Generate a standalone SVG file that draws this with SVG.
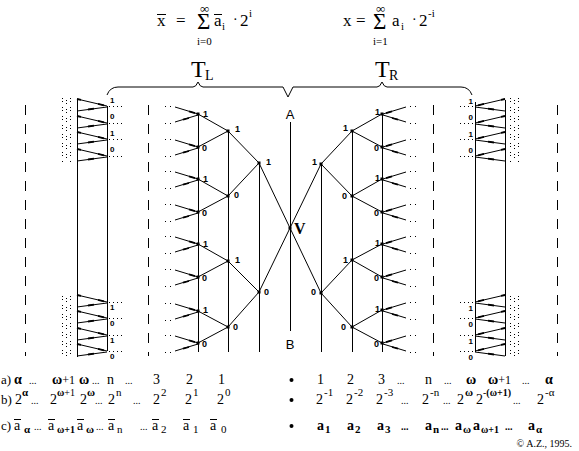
<svg xmlns="http://www.w3.org/2000/svg" xmlns:xlink="http://www.w3.org/1999/xlink" width="579" height="451" viewBox="0 0 579 451">
<style>
.ln{stroke:#000;stroke-width:1;fill:none}
.th{stroke:#000;stroke-width:1.8;fill:none}
.dash{stroke:#000;stroke-width:1;stroke-dasharray:10 9;fill:none}
.dt{stroke:#000;stroke-width:1;stroke-dasharray:1 3;fill:none}
.dc{stroke:#000;stroke-width:1;stroke-dasharray:1 2 1 5;fill:none}
.lbl{font-family:"Liberation Sans",Arial,sans-serif;font-size:9px;font-weight:bold;fill:#000}
.tl{font-family:"Liberation Sans",Arial,sans-serif;font-size:8px;font-weight:bold;fill:#000}
.sf{font-family:"Liberation Serif","Times New Roman",serif;fill:#000}
.t14{font-size:14px}
.s11{font-size:11px}
.s10{font-size:10px}
.s12{font-size:12px}
.s13{font-size:13px}
.b{font-weight:bold}
</style>
<defs>
<g id="wedge">
<path class="ln" d="M-23,-7 L0,0 M-23,8 L0,1"/>
<path class="th" d="M-9,-2.7 L-3,-0.9 M-15,5.6 L-9,4"/>
<rect x="-33" y="-8" width="1" height="1"/><rect x="-28" y="-8" width="1" height="1"/>
<rect x="-33" y="9" width="1" height="1"/><rect x="-28" y="9" width="1" height="1"/>
</g>
<g id="tiny">
<path class="ln" d="M-30,-7 L0,0 M-30,5 L0,1"/>
<path class="th" d="M-9,-2.1 L-3,-0.7 M-19,3.5 L-13,2.7 M-30,-7 L-26,-6.1"/>
<path class="dt" d="M2,0.5 L15,0.5"/>
</g>
</defs>

<!-- formulas -->
<g id="formula-left" class="sf">
<text x="157" y="26" font-size="17">x</text>
<line class="ln" x1="157" y1="14.5" x2="166" y2="14.5"/>
<text x="176" y="26" font-size="17">=</text>
<text x="197" y="29" font-size="23">Σ</text>
<text x="200" y="13" font-size="13">∞</text>
<text x="197" y="45" font-size="11">i=0</text>
<text x="214" y="26" font-size="17">a</text>
<line class="ln" x1="214" y1="14.5" x2="222" y2="14.5"/>
<text x="222" y="30" font-size="11">i</text>
<text x="233" y="24" font-size="14">·</text>
<text x="240" y="26" font-size="17">2</text>
<text x="249" y="17" font-size="11">i</text>
</g>
<g id="formula-right" class="sf">
<text x="343" y="26" font-size="17">x</text>
<text x="356" y="26" font-size="17">=</text>
<text x="373" y="29" font-size="23">Σ</text>
<text x="376" y="13" font-size="13">∞</text>
<text x="373" y="45" font-size="11">i=1</text>
<text x="392" y="26" font-size="17">a</text>
<text x="401" y="30" font-size="11">i</text>
<text x="412" y="24" font-size="14">·</text>
<text x="419" y="26" font-size="17">2</text>
<text x="428" y="17" font-size="11">-i</text>
</g>
<g id="TL" class="sf"><text x="191" y="77" font-size="24">T</text><text x="205" y="80" font-size="14">L</text></g>
<g id="TR" class="sf"><text x="375" y="77" font-size="24">T</text><text x="389" y="80" font-size="14">R</text></g>
<path id="brace" class="ln" d="M107,95 Q110,87 118,87 L193,87 Q196,87 198,82 Q200,87 203,87 L283,87 L288,97 L293,87 L377,87 Q380,87 382,82 Q384,87 387,87 L461,87 Q469,87 472,95"/>

<!-- dashed guides -->
<g id="guides">
<path class="dash" d="M25.5,105 V356 M148.5,105 V356 M433.5,105 V356 M557.5,105 V356"/>
</g>

<!-- tiny clusters -->
<g id="cluster-left">
<path class="ln" d="M77.5,100 V357 M107.5,106 V351"/>
<use xlink:href="#tiny" x="107" y="106"/><use xlink:href="#tiny" x="107" y="123"/><use xlink:href="#tiny" x="107" y="139"/><use xlink:href="#tiny" x="107" y="156"/>
<use xlink:href="#tiny" x="107" y="302"/><use xlink:href="#tiny" x="107" y="318"/><use xlink:href="#tiny" x="107" y="335"/><use xlink:href="#tiny" x="107" y="351"/>
<path class="dc" d="M62.5,98 V163 M66.5,100 V163 M70.5,98 V163 M62.5,296 V358 M66.5,298 V358 M70.5,296 V358"/>
<text class="tl" x="110" y="103">1</text><text class="tl" x="110" y="119">0</text><text class="tl" x="110" y="136">1</text><text class="tl" x="110" y="152">0</text>
<text class="tl" x="110" y="310">1</text><text class="tl" x="110" y="326">0</text><text class="tl" x="110" y="343">1</text><text class="tl" x="110" y="359">0</text>
</g>
<g id="cluster-right">
<path class="ln" d="M475.5,102 V352 M505.5,100 V356"/>
<use xlink:href="#tiny" transform="translate(475,106) scale(-1,1)"/><use xlink:href="#tiny" transform="translate(475,123) scale(-1,1)"/><use xlink:href="#tiny" transform="translate(475,139) scale(-1,1)"/><use xlink:href="#tiny" transform="translate(475,156) scale(-1,1)"/>
<use xlink:href="#tiny" transform="translate(475,302) scale(-1,1)"/><use xlink:href="#tiny" transform="translate(475,318) scale(-1,1)"/><use xlink:href="#tiny" transform="translate(475,335) scale(-1,1)"/><use xlink:href="#tiny" transform="translate(475,351) scale(-1,1)"/>
<path class="dc" d="M510.5,98 V163 M514.5,100 V163 M518.5,98 V163 M510.5,296 V358 M514.5,298 V358 M518.5,296 V358"/>
<text class="tl" x="473" y="104" text-anchor="end">1</text><text class="tl" x="473" y="120" text-anchor="end">0</text><text class="tl" x="473" y="137" text-anchor="end">1</text><text class="tl" x="473" y="153" text-anchor="end">0</text>
<text class="tl" x="473" y="311" text-anchor="end">1</text><text class="tl" x="473" y="327" text-anchor="end">0</text><text class="tl" x="473" y="344" text-anchor="end">1</text><text class="tl" x="473" y="360" text-anchor="end">0</text>
</g>

<!-- connectors -->
<g id="connectors">
<path class="ln" d="M198.5,114 V352 M228.5,131 V352 M259.5,163 V352 M290.5,122 V331 M321.5,164 V352 M352.5,131 V352 M382.5,114 V352"/>
<path class="ln" d="M259,163 L321,293 M321,164 L259,292
M259,163 L228,131 M259,163 L228,196 M259,292 L228,261 M259,292 L228,327
M228,131 L198,114 M228,131 L198,147 M228,196 L198,179 M228,196 L198,212 M228,261 L198,244 M228,261 L198,277 M228,327 L198,311 M228,327 L198,343
M321,164 L352,131 M321,164 L352,196 M321,293 L352,260 M321,293 L352,327
M352,131 L382,114 M352,131 L382,147 M352,196 L382,179 M352,196 L382,212 M352,260 L382,244 M352,260 L382,277 M352,327 L382,310 M352,327 L382,343"/>
<use xlink:href="#wedge" x="198" y="114"/><use xlink:href="#wedge" x="198" y="147"/><use xlink:href="#wedge" x="198" y="179"/><use xlink:href="#wedge" x="198" y="212"/>
<use xlink:href="#wedge" x="198" y="244"/><use xlink:href="#wedge" x="198" y="277"/><use xlink:href="#wedge" x="198" y="311"/><use xlink:href="#wedge" x="198" y="343"/>
<use xlink:href="#wedge" transform="translate(383,114) scale(-1,1)"/><use xlink:href="#wedge" transform="translate(383,147) scale(-1,1)"/><use xlink:href="#wedge" transform="translate(383,179) scale(-1,1)"/><use xlink:href="#wedge" transform="translate(383,212) scale(-1,1)"/>
<use xlink:href="#wedge" transform="translate(383,244) scale(-1,1)"/><use xlink:href="#wedge" transform="translate(383,277) scale(-1,1)"/><use xlink:href="#wedge" transform="translate(383,310) scale(-1,1)"/><use xlink:href="#wedge" transform="translate(383,343) scale(-1,1)"/>
</g>

<!-- nodes -->
<g id="nA"><text x="290" y="119" text-anchor="middle" font-family="Liberation Sans,Arial,sans-serif" font-size="13">A</text></g>
<g id="nB"><text x="290" y="349" text-anchor="middle" font-family="Liberation Sans,Arial,sans-serif" font-size="13">B</text></g>
<g id="nV"><rect x="288.5" y="226.5" width="3" height="3"/><text class="sf b" x="294" y="234" font-size="16">V</text></g>
<g id="nL1a"><rect x="257.5" y="161.5" width="3" height="3"/><text class="lbl" x="266" y="165">1</text></g>
<g id="nL1b"><rect x="257.5" y="290.5" width="3" height="3"/><text class="lbl" x="264" y="295">0</text></g>
<g id="nL2a"><rect x="226.5" y="129.5" width="3" height="3"/><text class="lbl" x="235" y="132">1</text></g>
<g id="nL2b"><rect x="226.5" y="194.5" width="3" height="3"/><text class="lbl" x="234" y="198">0</text></g>
<g id="nL2c"><rect x="226.5" y="259.5" width="3" height="3"/><text class="lbl" x="235" y="263">1</text></g>
<g id="nL2d"><rect x="226.5" y="325.5" width="3" height="3"/><text class="lbl" x="233" y="330">0</text></g>
<g id="nL3a"><rect x="196.5" y="112.5" width="3" height="3"/><text class="lbl" x="203" y="117">1</text></g>
<g id="nL3b"><rect x="196.5" y="145.5" width="3" height="3"/><text class="lbl" x="202" y="151">0</text></g>
<g id="nL3c"><rect x="196.5" y="177.5" width="3" height="3"/><text class="lbl" x="203" y="182">1</text></g>
<g id="nL3d"><rect x="196.5" y="210.5" width="3" height="3"/><text class="lbl" x="202" y="216">0</text></g>
<g id="nL3e"><rect x="196.5" y="242.5" width="3" height="3"/><text class="lbl" x="203" y="247">1</text></g>
<g id="nL3f"><rect x="196.5" y="275.5" width="3" height="3"/><text class="lbl" x="202" y="281">0</text></g>
<g id="nL3g"><rect x="196.5" y="309.5" width="3" height="3"/><text class="lbl" x="203" y="313">1</text></g>
<g id="nL3h"><rect x="196.5" y="341.5" width="3" height="3"/><text class="lbl" x="202" y="347">0</text></g>
<g id="nR1a"><rect x="319.5" y="162.5" width="3" height="3"/><text class="lbl" x="317" y="165" text-anchor="end">1</text></g>
<g id="nR1b"><rect x="319.5" y="291.5" width="3" height="3"/><text class="lbl" x="316" y="295" text-anchor="end">0</text></g>
<g id="nR2a"><rect x="350.5" y="129.5" width="3" height="3"/><text class="lbl" x="348" y="131" text-anchor="end">1</text></g>
<g id="nR2b"><rect x="350.5" y="194.5" width="3" height="3"/><text class="lbl" x="347" y="199" text-anchor="end">0</text></g>
<g id="nR2c"><rect x="350.5" y="258.5" width="3" height="3"/><text class="lbl" x="348" y="263" text-anchor="end">1</text></g>
<g id="nR2d"><rect x="350.5" y="325.5" width="3" height="3"/><text class="lbl" x="346" y="330" text-anchor="end">0</text></g>
<g id="nR3a"><rect x="380.5" y="112.5" width="3" height="3"/><text class="lbl" x="380" y="115" text-anchor="end">1</text></g>
<g id="nR3b"><rect x="380.5" y="145.5" width="3" height="3"/><text class="lbl" x="379" y="151" text-anchor="end">0</text></g>
<g id="nR3c"><rect x="380.5" y="177.5" width="3" height="3"/><text class="lbl" x="380" y="181" text-anchor="end">1</text></g>
<g id="nR3d"><rect x="380.5" y="210.5" width="3" height="3"/><text class="lbl" x="379" y="216" text-anchor="end">0</text></g>
<g id="nR3e"><rect x="380.5" y="242.5" width="3" height="3"/><text class="lbl" x="380" y="246" text-anchor="end">1</text></g>
<g id="nR3f"><rect x="380.5" y="275.5" width="3" height="3"/><text class="lbl" x="379" y="281" text-anchor="end">0</text></g>
<g id="nR3g"><rect x="380.5" y="308.5" width="3" height="3"/><text class="lbl" x="380" y="312" text-anchor="end">1</text></g>
<g id="nR3h"><rect x="380.5" y="341.5" width="3" height="3"/><text class="lbl" x="379" y="347" text-anchor="end">0</text></g>

<!-- table -->
<g id="table" class="sf t14">
<circle cx="291.5" cy="380" r="2"/><circle cx="291.5" cy="400" r="2"/><circle cx="291.5" cy="426" r="2"/>
<!-- row a -->
<text class="s13" x="1" y="384">a)</text><text class="b" x="14" y="384">α</text><text class="s10" x="29" y="384">...</text>
<text x="52" y="384"><tspan class="b">ω</tspan><tspan class="s12">+1</tspan></text><text class="b" x="79" y="384">ω</text><text class="s10" x="92" y="384">...</text>
<text x="107" y="384">n</text><text class="s10" x="125" y="384">...</text><text x="153" y="384">3</text><text x="186" y="384">2</text><text x="218" y="384">1</text>
<text x="317" y="384">1</text><text x="347" y="384">2</text><text x="378" y="384">3</text><text class="s10" x="397" y="384">...</text>
<text x="425" y="384">n</text><text class="s10" x="444" y="384">...</text><text class="b" x="466" y="384">ω</text>
<text x="488" y="384"><tspan class="b">ω</tspan><tspan class="s12">+1</tspan></text><text class="s10" x="522" y="384">...</text><text class="b" x="545" y="384">α</text>
<!-- row b -->
<text class="s13" x="1" y="404">b)</text>
<text x="15" y="404">2</text><text class="s11 b" x="22" y="396">α</text><text class="s10" x="31" y="404">...</text>
<text x="50" y="404">2</text><text class="s10" x="57" y="396"><tspan class="b">ω</tspan>+1</text>
<text x="80" y="404">2</text><text class="s11 b" x="87" y="396">ω</text><text class="s10" x="95" y="404">...</text>
<text x="108" y="404">2</text><text class="s11" x="116" y="396">n</text><text class="s10" x="133" y="404">...</text>
<text x="153" y="404">2</text><text class="s11" x="161" y="396">2</text>
<text x="185" y="404">2</text><text class="s11" x="193" y="396">1</text>
<text x="217" y="404">2</text><text class="s11" x="225" y="396">0</text>
<text x="316" y="404">2</text><text class="s11" x="324" y="396">-1</text>
<text x="346" y="404">2</text><text class="s11" x="354" y="396">-2</text>
<text x="376" y="404">2</text><text class="s11" x="384" y="396">-3</text><text class="s10" x="401" y="404">...</text>
<text x="422" y="404">2</text><text class="s11" x="430" y="396">-n</text><text class="s10" x="443" y="404">...</text>
<text x="457" y="404">2</text><text class="s11 b" x="465" y="396">ω</text>
<text x="476" y="404">2</text><text class="s10" x="483" y="396">-<tspan class="b">(ω+1)</tspan></text><text class="s10" x="513" y="404">...</text>
<text x="537" y="404">2</text><text class="s11" x="545" y="396">-α</text>
<!-- row c -->
<text class="s13" x="1" y="430">c)</text>
<g class="ln"><path d="M14,419.5 H21 M48,419.5 H55 M77,419.5 H84 M108,419.5 H115 M152,419.5 H159 M183,419.5 H190 M210,419.5 H217"/></g>
<text x="14" y="430">a</text><text class="s11 b" x="24" y="433">α</text><text class="s10" x="34" y="430">...</text>
<text x="48" y="430">a</text><text class="s10 b" x="57" y="433">ω+1</text>
<text x="77" y="430">a</text><text class="s11 b" x="86" y="433">ω</text><text class="s10" x="96" y="430">...</text>
<text x="108" y="430">a</text><text class="s11" x="117" y="433">n</text><text class="s10" x="140" y="430">...</text>
<text x="152" y="430">a</text><text class="s11" x="161" y="433">2</text>
<text x="183" y="430">a</text><text class="s11" x="193" y="433">1</text>
<text x="210" y="430">a</text><text class="s11" x="221" y="433">0</text>
<g class="b">
<text x="317" y="430">a</text><text class="s11" x="325" y="433">1</text>
<text x="347" y="430">a</text><text class="s11" x="355" y="433">2</text>
<text x="377" y="430">a</text><text class="s11" x="385" y="433">3</text><text class="s10" x="401" y="430">...</text>
<text x="425" y="430">a</text><text class="s11" x="433" y="433">n</text><text class="s10" x="441" y="430">...</text>
<text x="455" y="430">a</text><text class="s11" x="463" y="433">ω</text>
<text x="473" y="430">a</text><text class="s10" x="481" y="433">ω+1</text><text class="s10" x="505" y="430">...</text>
<text x="528" y="430">a</text><text class="s11" x="536" y="433">α</text>
</g>
</g>
<text class="sf" x="572" y="447" font-size="10" text-anchor="end">© A.Z., 1995.</text>
</svg>
